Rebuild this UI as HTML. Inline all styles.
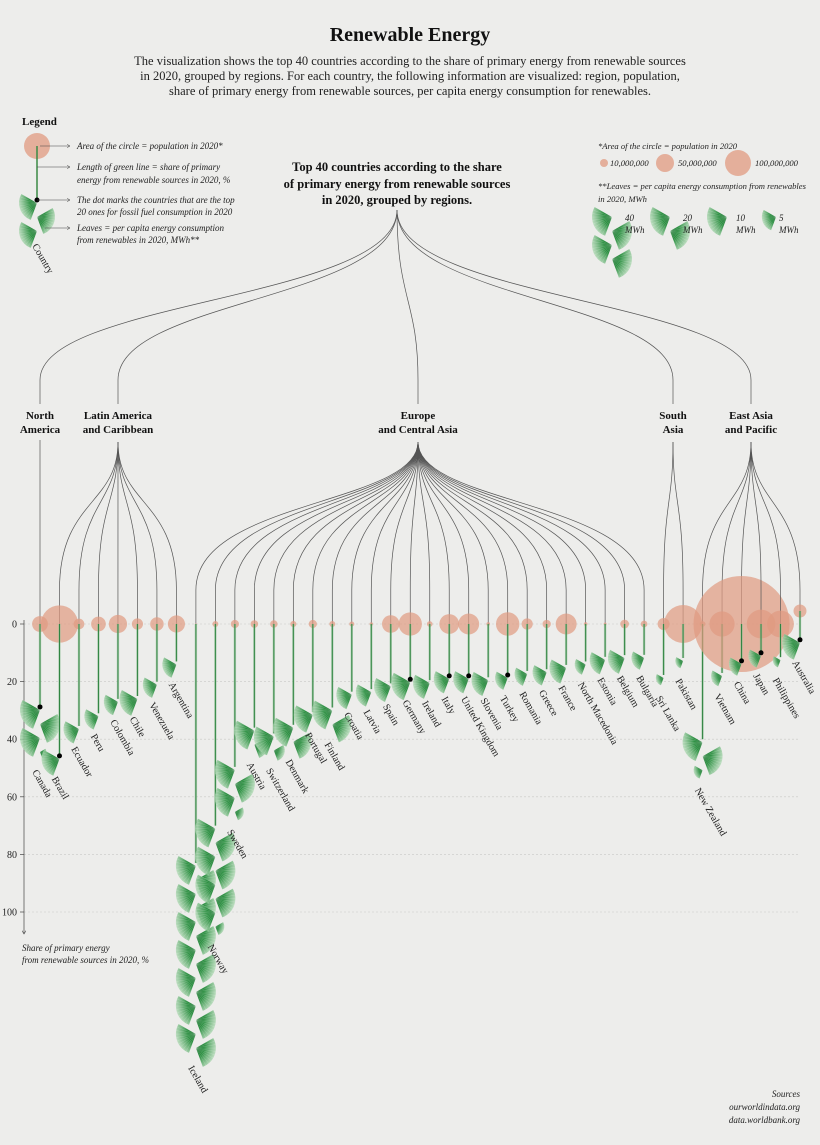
<!DOCTYPE html>
<html><head><meta charset="utf-8"><title>Renewable Energy</title>
<style>
html,body{margin:0;padding:0;background:#ededeb;}
svg{display:block;font-family:"Liberation Serif",serif;}
.it{font-style:italic;font-size:9px;fill:#222;}
.it2{font-style:italic;font-size:8.6px;fill:#222;}
</style></head>
<body>
<svg id="chart" width="820" height="1145" viewBox="0 0 820 1145" xmlns="http://www.w3.org/2000/svg">
<defs>
<radialGradient id="leafGrad" gradientUnits="objectBoundingBox" cx="0" cy="0.5" fx="0" fy="0.5" r="1">
<stop offset="0" stop-color="#137028"/>
<stop offset="0.4" stop-color="#2f9144"/>
<stop offset="1" stop-color="#b2dab6" stop-opacity="0.8"/>
</radialGradient>
<g id="leaf">
<path d="M0,0 L12.86,-15.32 A20,20 0 0 1 12.86,15.32 Z" fill="url(#leafGrad)"/>
<g stroke="#ffffff" stroke-opacity="0.28" stroke-width="0.4">
<line x1="0" y1="0" x2="12.86" y2="-15.32"/><line x1="0" y1="0" x2="15.3" y2="-12.9"/>
<line x1="0" y1="0" x2="17.3" y2="-10"/><line x1="0" y1="0" x2="18.8" y2="-6.8"/>
<line x1="0" y1="0" x2="19.7" y2="-3.5"/><line x1="0" y1="0" x2="20" y2="0"/>
<line x1="0" y1="0" x2="19.7" y2="3.5"/><line x1="0" y1="0" x2="18.8" y2="6.8"/>
<line x1="0" y1="0" x2="17.3" y2="10"/><line x1="0" y1="0" x2="15.3" y2="12.9"/>
<line x1="0" y1="0" x2="12.86" y2="15.32"/>
</g>
</g>
<marker id="arr" markerWidth="6" markerHeight="6" refX="5" refY="3" orient="auto"><path d="M0,0 L5,3 L0,6" fill="none" stroke="#444" stroke-width="0.8"/></marker>
</defs>

<text x="410" y="41" text-anchor="middle" font-size="20" font-weight="bold" fill="#111">Renewable Energy</text>
<g font-size="12.5" fill="#222" text-anchor="middle">
<text x="410" y="65">The visualization shows the top 40 countries according to the share of primary energy from renewable sources</text>
<text x="410" y="80">in 2020, grouped by regions. For each country, the following information are visualized: region, population,</text>
<text x="410" y="95">share of primary energy from renewable sources, per capita energy consumption for renewables.</text>
</g>
<g font-size="12.5" font-weight="bold" fill="#111" text-anchor="middle">
<text x="397" y="171">Top 40 countries according to the share</text>
<text x="397" y="188">of primary energy from renewable sources</text>
<text x="397" y="204">in 2020, grouped by regions.</text>
</g>

<g>
<text x="22" y="125" font-size="11" font-weight="bold" fill="#111">Legend</text>
<circle cx="37" cy="146" r="13" fill="#e09a80" fill-opacity="0.75"/>
<line x1="37" y1="146" x2="37" y2="200" stroke="#3a8a45" stroke-width="1.5"/>
<use href="#leaf" transform="translate(37,203) rotate(160) scale(0.9)"/>
<use href="#leaf" transform="translate(37,217) rotate(20) scale(0.9)"/>
<use href="#leaf" transform="translate(37,231) rotate(160) scale(0.9)"/>
<circle cx="37" cy="200" r="2.5" fill="#000"/>
<text transform="translate(32,246) rotate(60)" font-size="10" fill="#222">Country</text>
<g stroke="#444" stroke-width="0.6" fill="none">
<line x1="40" y1="146" x2="70" y2="146" marker-end="url(#arr)"/>
<line x1="37" y1="167" x2="70" y2="167" marker-end="url(#arr)"/>
<line x1="37" y1="200" x2="70" y2="200" marker-end="url(#arr)"/>
<line x1="45" y1="228" x2="70" y2="228" marker-end="url(#arr)"/>
</g>
<text class="it" x="77" y="149">Area of the circle = population in 2020*</text>
<text class="it" x="77" y="170">Length of green line = share of primary</text>
<text class="it" x="77" y="183">energy from renewable sources in 2020, %</text>
<text class="it" x="77" y="203">The dot marks the countries that are the top</text>
<text class="it" x="77" y="215">20 ones for fossil fuel consumption in 2020</text>
<text class="it" x="77" y="231">Leaves = per capita energy consumption</text>
<text class="it" x="77" y="243">from renewables in 2020, MWh**</text>
</g>

<g>
<text class="it2" x="598" y="149">*Area of the circle = population in 2020</text>
<circle cx="604" cy="163" r="4" fill="#e09a80" fill-opacity="0.75"/>
<text class="it2" x="610" y="166">10,000,000</text>
<circle cx="665" cy="163" r="9" fill="#e09a80" fill-opacity="0.75"/>
<text class="it2" x="678" y="166">50,000,000</text>
<circle cx="738" cy="163" r="13" fill="#e09a80" fill-opacity="0.75"/>
<text class="it2" x="755" y="166">100,000,000</text>
<text class="it2" x="598" y="189">**Leaves = per capita energy consumption from renewables</text>
<text class="it2" x="598" y="202">in 2020, MWh</text>
<g id="leafLegend"></g>
<text class="it" x="625" y="221">40</text><text class="it" x="625" y="233">MWh</text>
<text class="it" x="683" y="221">20</text><text class="it" x="683" y="233">MWh</text>
<text class="it" x="736" y="221">10</text><text class="it" x="736" y="233">MWh</text>
<text class="it" x="779" y="221">5</text><text class="it" x="779" y="233">MWh</text>
</g>

<g id="grid"></g>
<g id="tree" fill="none" stroke="#555" stroke-width="0.7"></g>
<g id="regions" font-size="11" font-weight="bold" fill="#111" text-anchor="middle"></g>
<g id="marks"></g>

<text class="it" x="22" y="951">Share of primary energy</text>
<text class="it" x="22" y="963">from renewable sources in 2020, %</text>

<g text-anchor="end">
<text class="it" x="800" y="1097">Sources</text>
<text class="it" x="800" y="1110">ourworldindata.org</text>
<text class="it" x="800" y="1123">data.worldbank.org</text>
</g>
</svg>
<script>
const countries = ["Canada","Brazil","Ecuador","Peru","Colombia","Chile","Venezuela","Argentina","Iceland","Norway","Sweden","Austria","Switzerland","Denmark","Portugal","Finland","Croatia","Latvia","Spain","Germany","Ireland","Italy","United Kingdom","Slovenia","Turkey","Romania","Greece","France","North Macedonia","Estonia","Belgium","Bulgaria","Sri Lanka","Pakistan","New Zealand","Vietnam","China","Japan","Philippines","Australia"];
const regionOf = [0,1,1,1,1,1,1,1,2,2,2,2,2,2,2,2,2,2,2,2,2,2,2,2,2,2,2,2,2,2,2,2,3,3,4,4,4,4,4,4];
const shares = [28.8,45.8,35.4,31,26,25,20,13,83,70,49.6,36,38,35,30.5,29,23.5,22.6,20.6,19.2,19.5,18,18,18.5,17.7,16.3,15.7,14.2,13,11.4,10.8,10.7,17.7,11.8,40,17,12.8,10,11.5,10];
const population = [38,212,17.6,33,51,19,28,45,0.37,5.4,10.4,8.9,8.6,5.8,10.3,5.5,4.0,1.9,47,83,5,60,67,2.1,84,19,10.7,67,2.1,1.3,11.5,6.9,21.9,221,5.1,97,1411,126,110,25.7];
const mwh = [31,8,6,5,5,8,5,5,140,72,32,15,13,18,9,19,6,6,7,9,7,6,6,7,4,4,5,7,3,6,7,4,1.5,1.5,22,3,4,4,1.5,8];
const top20 = [1,1,0,0,0,0,0,0,0,0,0,0,0,0,0,0,0,0,0,1,0,1,1,0,1,0,0,0,0,0,0,0,0,0,0,0,1,1,0,1];
const regionNames = [["North","America"],["Latin America","and Caribbean"],["Europe","and Central Asia"],["South","Asia"],["East Asia","and Pacific"]];
const regionX = [40,118,418,673,751];
const yTicks = [0,20,40,60,80,100];

const NS="http://www.w3.org/2000/svg";
const Y0=624, PX=2.88;
function yScale(v){return Y0+v*PX;}
function xScale(i){return 40+i*(760/39);}
function rScale(p){return 48*Math.sqrt(p/1411);}
function mk(tag,attrs,parent){const e=document.createElementNS(NS,tag);for(const k in attrs)e.setAttribute(k,attrs[k]);parent.appendChild(e);return e;}

const grid=document.getElementById('grid');
yTicks.forEach(t=>{
  const g=mk('line',{x1:24,x2:800,y1:yScale(t),y2:yScale(t),stroke:'#c9c9c6','stroke-width':0.6,'stroke-dasharray':'2,2'},grid);
  
  
  mk('line',{x1:20,x2:24,y1:yScale(t),y2:yScale(t),stroke:'#444','stroke-width':0.7},grid);
  const tl=mk('text',{x:17,y:yScale(t)+3.5,'text-anchor':'end','font-size':10,fill:'#222'},grid);
  tl.textContent=t;
  
  
});
const ax=mk('line',{x1:24,x2:24,y1:620,y2:934,stroke:'#444','stroke-width':0.7,'marker-end':'url(#arr)'},grid);



const tree=document.getElementById('tree');
regionX.forEach((rx,r)=>{
  const p=mk('path',{d:`M397,210 C397,300 ${rx},300 ${rx},380 L${rx},404`},tree);
  
  
  const rg=document.getElementById('regions');
  const t1=mk('text',{x:rx,y:419},rg); t1.textContent=regionNames[r][0];
  
  
  const t2=mk('text',{x:rx,y:433},rg); t2.textContent=regionNames[r][1];
});

const marks=document.getElementById('marks');
function leaf(x,y,rot,s,parent){
  const u=mk('use',{href:'#leaf',transform:`translate(${x},${y}) rotate(${rot}) scale(${s})`},parent);
  
  
}
function leaves(x,yEnd,v,parent){
  const n=Math.floor(v/10), rem=v/10-n;
  let i=0;
  for(;i<n;i++) leaf(x,yEnd+3+i*14,i%2?20:160,1,parent);
  if(rem>0.02){leaf(x,yEnd+3+i*14,i%2?20:160,Math.sqrt(rem),parent);i++;}
  return yEnd+3+(Math.max(i,1)-1)*14;
}
const ll=document.getElementById('leafLegend');
leaves(612,214,40,ll); leaves(670,214,20,ll); leaves(727,214,10,ll); leaves(776,214,5,ll);

countries.forEach((c,i)=>{
  const x=xScale(i), r=regionOf[i], rx=regionX[r];
  const cy = c==="Australia"?611:Y0;
  const g=mk('g',{},marks);
  
  
  let d;
  if(r===0) d=`M${rx},440 L${x},${cy}`;
  else d=`M${rx},442 C${rx},505 ${x},500 ${x},590 L${x},${cy}`;
  mk('path',{d:d,fill:'none',stroke:'#555','stroke-width':0.7},g);
  const circ=mk('circle',{cx:x,cy:cy,r:rScale(population[i]),fill:'#e09a80','fill-opacity':0.7},g);
  
  
  const yEnd = cy+shares[i]*PX;
  mk('line',{x1:x,x2:x,y1:cy,y2:yEnd,stroke:'#8fc096','stroke-width':2.4,'stroke-opacity':0.6},g);
  const gl=mk('line',{x1:x,x2:x,y1:cy,y2:yEnd,stroke:'#2f8440','stroke-width':1},g);
  
  
  const last=leaves(x,yEnd,mwh[i],g);
  if(top20[i]){
    const dot=mk('circle',{cx:x,cy:yEnd,r:2.5,fill:'#000'},g);
    
    
  }
  const t=mk('text',{transform:`translate(${x-8},${last+20}) rotate(60)`,'font-size':10,fill:'#222'},g);
  t.textContent=c;
  
  
});
</script>
</body></html>
